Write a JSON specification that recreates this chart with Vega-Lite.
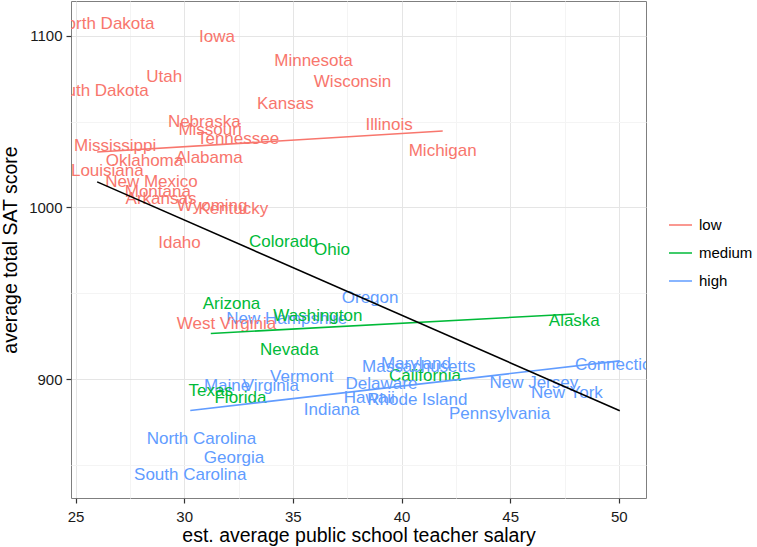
{
  "$schema": "https://vega.github.io/schema/vega-lite/v6.json",
  "autosize": {"type": "none"},
  "padding": {"left": 71, "top": 1, "right": 111, "bottom": 49},
  "width": 575,
  "height": 497,
  "background": "white",
  "config": {
    "font": "Liberation Sans",
    "view": {"stroke": "#7f7f7f", "strokeWidth": 1},
    "axis": {
      "domain": false,
      "labelFont": "Liberation Sans",
      "labelFontSize": 15,
      "labelColor": "#1a1a1a",
      "titleFont": "Liberation Sans",
      "titleFontSize": 19.5,
      "titleFontWeight": "normal",
      "titleColor": "#000000",
      "tickSize": 5,
      "tickWidth": 1.2,
      "tickColor": "#333333",
      "gridWidth": 1
    },
    "legend": {"labelFont": "Liberation Sans", "labelFontSize": 15, "labelColor": "#000000"}
  },
  "data": {"values": [
    {"state": "Alabama", "salary": 31.144, "sat": 1029, "frac": "low"},
    {"state": "Alaska", "salary": 47.951, "sat": 934, "frac": "medium"},
    {"state": "Arizona", "salary": 32.175, "sat": 944, "frac": "medium"},
    {"state": "Arkansas", "salary": 28.934, "sat": 1005, "frac": "low"},
    {"state": "California", "salary": 41.078, "sat": 902, "frac": "medium"},
    {"state": "Colorado", "salary": 34.571, "sat": 980, "frac": "medium"},
    {"state": "Connecticut", "salary": 50.045, "sat": 908, "frac": "high"},
    {"state": "Delaware", "salary": 39.076, "sat": 897, "frac": "high"},
    {"state": "Florida", "salary": 32.588, "sat": 889, "frac": "medium"},
    {"state": "Georgia", "salary": 32.291, "sat": 854, "frac": "high"},
    {"state": "Hawaii", "salary": 38.518, "sat": 889, "frac": "high"},
    {"state": "Idaho", "salary": 29.783, "sat": 979, "frac": "low"},
    {"state": "Illinois", "salary": 39.431, "sat": 1048, "frac": "low"},
    {"state": "Indiana", "salary": 36.785, "sat": 882, "frac": "high"},
    {"state": "Iowa", "salary": 31.511, "sat": 1099, "frac": "low"},
    {"state": "Kansas", "salary": 34.652, "sat": 1060, "frac": "low"},
    {"state": "Kentucky", "salary": 32.257, "sat": 999, "frac": "low"},
    {"state": "Louisiana", "salary": 26.461, "sat": 1021, "frac": "low"},
    {"state": "Maine", "salary": 31.972, "sat": 896, "frac": "high"},
    {"state": "Maryland", "salary": 40.661, "sat": 909, "frac": "high"},
    {"state": "Massachusetts", "salary": 40.795, "sat": 907, "frac": "high"},
    {"state": "Michigan", "salary": 41.895, "sat": 1033, "frac": "low"},
    {"state": "Minnesota", "salary": 35.948, "sat": 1085, "frac": "low"},
    {"state": "Mississippi", "salary": 26.818, "sat": 1036, "frac": "low"},
    {"state": "Missouri", "salary": 31.189, "sat": 1045, "frac": "low"},
    {"state": "Montana", "salary": 28.785, "sat": 1009, "frac": "low"},
    {"state": "Nebraska", "salary": 30.922, "sat": 1050, "frac": "low"},
    {"state": "Nevada", "salary": 34.836, "sat": 917, "frac": "medium"},
    {"state": "New Hampshire", "salary": 34.72, "sat": 935, "frac": "high"},
    {"state": "New Jersey", "salary": 46.087, "sat": 898, "frac": "high"},
    {"state": "New Mexico", "salary": 28.493, "sat": 1015, "frac": "low"},
    {"state": "New York", "salary": 47.612, "sat": 892, "frac": "high"},
    {"state": "North Carolina", "salary": 30.793, "sat": 865, "frac": "high"},
    {"state": "North Dakota", "salary": 26.327, "sat": 1107, "frac": "low"},
    {"state": "Ohio", "salary": 36.802, "sat": 975, "frac": "medium"},
    {"state": "Oklahoma", "salary": 28.172, "sat": 1027, "frac": "low"},
    {"state": "Oregon", "salary": 38.555, "sat": 947, "frac": "high"},
    {"state": "Pennsylvania", "salary": 44.51, "sat": 880, "frac": "high"},
    {"state": "Rhode Island", "salary": 40.729, "sat": 888, "frac": "high"},
    {"state": "South Carolina", "salary": 30.279, "sat": 844, "frac": "high"},
    {"state": "South Dakota", "salary": 25.994, "sat": 1068, "frac": "low"},
    {"state": "Tennessee", "salary": 32.477, "sat": 1040, "frac": "low"},
    {"state": "Texas", "salary": 31.223, "sat": 893, "frac": "medium"},
    {"state": "Utah", "salary": 29.082, "sat": 1076, "frac": "low"},
    {"state": "Vermont", "salary": 35.406, "sat": 901, "frac": "high"},
    {"state": "Virginia", "salary": 33.987, "sat": 896, "frac": "high"},
    {"state": "Washington", "salary": 36.151, "sat": 937, "frac": "medium"},
    {"state": "West Virginia", "salary": 31.944, "sat": 932, "frac": "low"},
    {"state": "Wisconsin", "salary": 37.746, "sat": 1073, "frac": "low"},
    {"state": "Wyoming", "salary": 31.285, "sat": 1001, "frac": "low"}
  ]},
  "encoding": {
    "x": {
      "field": "salary", "type": "quantitative",
      "scale": {"domain": [24.79, 51.25], "nice": false, "zero": false},
      "axis": {
        "title": "est. average public school teacher salary",
        "values": [25, 27.5, 30, 32.5, 35, 37.5, 40, 42.5, 45, 47.5, 50],
        "labelExpr": "datum.value % 5 === 0 ? datum.label : ''",
        "tickOpacity": {"condition": {"test": "datum.value % 5 !== 0", "value": 0}, "value": 1},
        "gridColor": {"condition": {"test": "datum.value % 5 !== 0", "value": "#f4f4f4"}, "value": "#e5e5e5"},
        "labelPadding": 6,
        "titlePadding": 2
      }
    },
    "y": {
      "field": "sat", "type": "quantitative",
      "scale": {"domain": [830.85, 1120.15], "nice": false, "zero": false},
      "axis": {
        "title": "average total SAT score",
        "format": "d",
        "values": [850, 900, 950, 1000, 1050, 1100],
        "labelExpr": "datum.value % 100 === 0 ? datum.label : ''",
        "tickOpacity": {"condition": {"test": "datum.value % 100 !== 0", "value": 0}, "value": 1},
        "gridColor": {"condition": {"test": "datum.value % 100 !== 0", "value": "#f4f4f4"}, "value": "#e5e5e5"},
        "labelPadding": 4,
        "titlePadding": 8
      }
    }
  },
  "layer": [
    {
      "mark": {"type": "text", "fontSize": 17, "font": "Liberation Sans", "align": "center", "baseline": "middle", "clip": true},
      "encoding": {
        "text": {"field": "state"},
        "color": {
          "field": "frac", "type": "nominal",
          "scale": {"domain": ["low", "medium", "high"], "range": ["#F8766D", "#00BA38", "#619CFF"]},
          "legend": {"symbolType": "stroke"}
        }
      }
    },
    {
      "transform": [{"regression": "sat", "on": "salary", "groupby": ["frac"]}],
      "mark": {"type": "line", "strokeWidth": 1.6, "clip": true},
      "encoding": {
        "color": {
          "field": "frac", "type": "nominal",
          "scale": {"domain": ["low", "medium", "high"], "range": ["#F8766D", "#00BA38", "#619CFF"]},
          "legend": {
            "title": null,
            "symbolType": "stroke",
            "symbolSize": 529,
            "symbolStrokeWidth": 1.6,
            "orient": "none",
            "legendX": 597,
            "legendY": 210,
            "clipHeight": 28,
            "rowPadding": 0,
            "labelOffset": 6
          }
        }
      }
    },
    {
      "transform": [{"regression": "sat", "on": "salary"}],
      "mark": {"type": "line", "strokeWidth": 1.6, "color": "black", "clip": true},
      "encoding": {}
    }
  ]
}
